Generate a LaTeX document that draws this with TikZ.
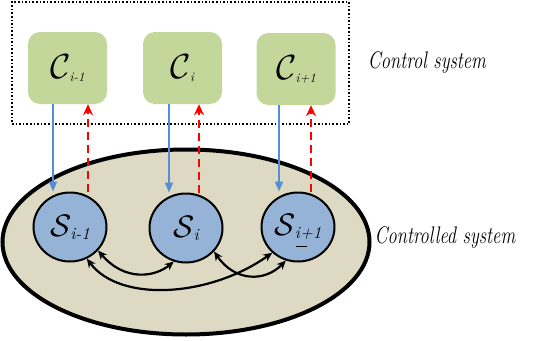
\documentclass[tikz,border=0pt]{standalone}
\usepackage{graphicx}
\usetikzlibrary{shapes.geometric,arrows.meta,calc}
\definecolor{boxgreen}{RGB}{196,215,155}
\definecolor{ellfill}{RGB}{221,217,195}
\definecolor{circfill}{RGB}{149,179,215}
\definecolor{arrblue}{RGB}{85,142,213}
\newcommand{\clab}[1]{\scalebox{1.4}{\fontsize{24}{26}\selectfont$\mathcal{C}$}\kern-1pt\raisebox{-3pt}{\fontsize{13}{14}\selectfont\itshape #1}}
\newcommand{\slab}[1]{\scalebox{1.25}{\fontsize{24}{26}\selectfont$\mathcal{S}$}\kern-1pt\raisebox{-3pt}{\fontsize{17}{18}\selectfont\itshape #1}}
\tikzset{
  ctrlbox/.style={rectangle,rounded corners=12pt,fill=boxgreen,minimum width=79pt,minimum height=72pt,inner sep=0pt},
  sysnode/.style={ellipse,draw=black,line width=2pt,fill=circfill,minimum width=73pt,minimum height=69pt,inner sep=0pt},
  downarr/.style={draw=arrblue,line width=1.8pt,-{Triangle[length=10pt,width=8pt]}},
  uparr/.style={draw=red,line width=2pt,dash pattern=on 8pt off 5pt,-{Stealth[length=11pt,width=10pt]}},
  linkarr/.style={draw=black,line width=2.2pt,{Stealth[length=9pt,width=8pt]}-{Stealth[length=9pt,width=8pt]}},
  lab/.style={font=\itshape\fontsize{24}{26}\selectfont,xscale=0.77}
}
\begin{document}
\begin{tikzpicture}[x=1pt,y=-1pt]
\useasboundingbox (0,0) rectangle (538,340);
% control system frame
\node[draw=black,line width=1.6pt,dotted,minimum width=337pt,minimum height=122pt,inner sep=0pt] (frame) at (180.5,63) {};
% controlled system ellipse
\node[ellipse,draw=black,line width=4pt,fill=ellfill,minimum width=367pt,minimum height=185pt,inner sep=0pt] (plant) at (186,242) {};
% controllers
\node[ctrlbox] (c1) at (67.5,68) {\clab{i-1}};
\node[ctrlbox] (c2) at (182.5,68) {\clab{i}};
\node[ctrlbox] (c3) at (296,69) {\clab{i+1}};
% subsystems
\node[sysnode] (s1) at (70,227) {\slab{i-1}};
\node[sysnode] (s2) at (186,228) {\slab{i}};
\node[sysnode] (s3) at (298,227) {\slab{i+1}};
\coordinate (m3a) at (296,246);
\coordinate (m3b) at (307,246);
\draw[line width=0.8pt] (m3a) -- (m3b);
% control signals (down)
\draw[downarr] ([xshift=-14.5pt]c1.south) -- ([xshift=-14.5pt]c1.south |- s1.north);
\draw[downarr] ([xshift=-13.5pt]c2.south) -- ([xshift=-13.5pt]c2.south |- s2.north);
\draw[downarr] ([xshift=-17pt]c3.south) -- ([xshift=-17pt]c3.south |- s3.north);
% measurements (up)
\draw[uparr] ([xshift=20.5pt]c1.south |- s1.north) -- ([xshift=20.5pt]c1.south);
\draw[uparr] ([xshift=16.5pt]c2.south |- s2.north) -- ([xshift=16.5pt]c2.south);
\draw[uparr] ([xshift=15pt]c3.south |- s3.north) -- ([xshift=15pt]c3.south);
% interconnections
\draw[linkarr] (s1.-40) .. controls (125,282) and (155,277) .. (s2.-110);
\draw[linkarr] (s2.-40) .. controls (235,282) and (265,282) .. (s3.-110);
\draw[linkarr] (s1.-62) .. controls (120,303) and (210,297) .. (s3.-135);
% labels
\node[lab] (lc) at (427,62) {Control system};
\node[lab] (lp) at (445,237) {Controlled system};
\end{tikzpicture}
\end{document}
